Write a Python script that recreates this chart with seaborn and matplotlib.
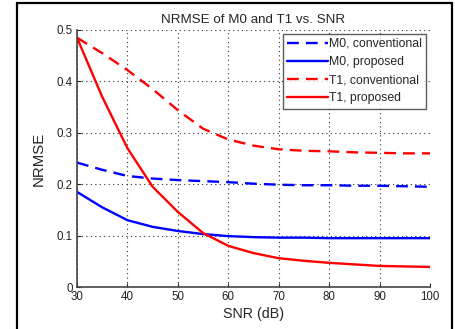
import numpy as np
import pandas as pd
import seaborn as sns
import matplotlib.pyplot as plt
from matplotlib.patches import Rectangle

sns.set_style("white")
plt.rcParams['font.family'] = ['Liberation Sans', 'DejaVu Sans']

# values
snr = [30, 35, 40, 45, 50, 55, 60, 65, 70, 75, 80, 85, 90, 95, 100]
m0_conv = [0.242, 0.228, 0.216, 0.211, 0.208, 0.206, 0.204, 0.201, 0.199, 0.198, 0.198, 0.197, 0.197, 0.196, 0.195]
m0_prop = [0.185, 0.155, 0.130, 0.117, 0.109, 0.103, 0.099, 0.097, 0.096, 0.096, 0.095, 0.095, 0.095, 0.095, 0.095]
t1_conv = [0.485, 0.455, 0.422, 0.385, 0.344, 0.308, 0.287, 0.275, 0.268, 0.265, 0.264, 0.262, 0.261, 0.260, 0.260]
t1_prop = [0.485, 0.370, 0.270, 0.195, 0.146, 0.105, 0.080, 0.066, 0.056, 0.051, 0.047, 0.044, 0.041, 0.040, 0.039]

series = [
    ("M0, conventional", m0_conv, "#0000ff", (5, 3)),
    ("M0, proposed", m0_prop, "#0000ff", ""),
    ("T1, conventional", t1_conv, "#ff0000", (5, 3)),
    ("T1, proposed", t1_prop, "#ff0000", ""),
]

fig = plt.figure(figsize=(4.56, 3.29), dpi=100)
ax = fig.add_axes([77 / 456, 1 - 287 / 329, 353 / 456, 257 / 329])

for name, vals, col, dash in series:
    df = pd.DataFrame({"SNR": snr, "NRMSE": vals})
    sns.lineplot(data=df, x="SNR", y="NRMSE", ax=ax, color=col,
                 linewidth=1.7, label=name)
    if dash:
        ax.lines[-1].set_dashes(dash)

ax.set_xlim(30, 100)
ax.set_ylim(0, 0.5)
ax.set_xticks(range(30, 101, 10))
ax.set_yticks([0, 0.1, 0.2, 0.3, 0.4, 0.5])
ax.set_yticklabels(["0", "0.1", "0.2", "0.3", "0.4", "0.5"])
ax.tick_params(direction="in", length=3, labelsize=8.3, colors="#222222",
               pad=3, left=True, bottom=True)
ax.grid(True, linestyle=(0, (1, 3)), color="#333333", linewidth=0.8)
for s in ["top", "right"]:
    ax.spines[s].set_visible(False)
for s in ["left", "bottom"]:
    ax.spines[s].set_color("#444444")
    ax.spines[s].set_linewidth(1.2)

ax.set_title("NRMSE of M0 and T1 vs. SNR", fontsize=9.6, pad=5)
ax.set_xlabel("SNR (dB)", fontsize=10.3, labelpad=3)
ax.set_ylabel("NRMSE", fontsize=10.8, labelpad=8)

leg = ax.legend(loc="upper right", fontsize=8.8, frameon=True, fancybox=False,
                handlelength=3.3, borderpad=0.35, labelspacing=0.5,
                handletextpad=0.1, borderaxespad=0.3)
leg.get_frame().set_edgecolor("#333333")
leg.get_frame().set_linewidth(1.0)

# outer black frame of the screenshot
fig.patches.append(Rectangle((17 / 456, -0.05), (452 - 17) / 456, 1.05 - 3 / 329,
                             transform=fig.transFigure, fill=False,
                             edgecolor="black", linewidth=1.6))

fig.savefig("out.png", dpi=100)
